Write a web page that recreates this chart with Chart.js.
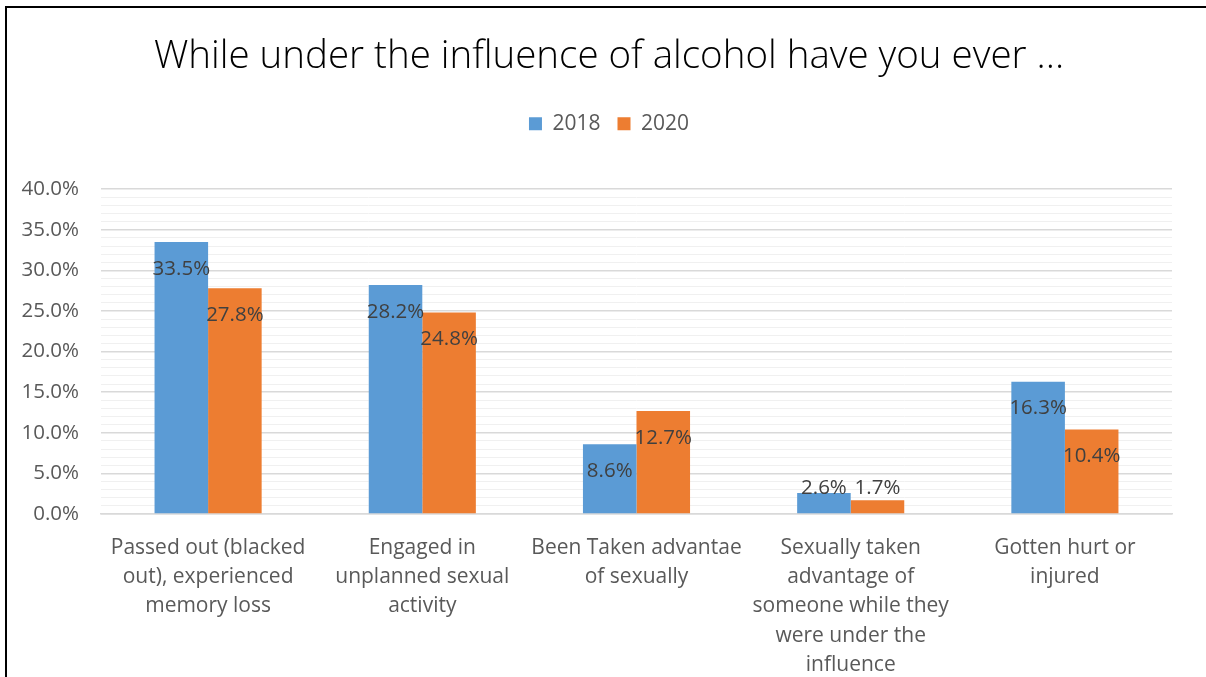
<!DOCTYPE html>
<html>
<head>
<meta charset="utf-8">
<script src="https://cdn.jsdelivr.net/npm/chart.js@4.4.1/dist/chart.umd.min.js"></script>
<style>
  html, body { margin: 0; padding: 0; background: #ffffff; }
  #frame { position: absolute; left: 5px; top: 6px; width: 1210px; height: 680px;
           border-left: 2.5px solid #000; border-top: 2.5px solid #000; }
  #wrap { position: absolute; left: 0; top: 0; width: 1206px; height: 677px; }
</style>
</head>
<body>
<div id="frame"></div>
<div id="wrap"><canvas id="c"></canvas></div>
<script>
// Survey responses, percent of students
const categories = [
  ["Passed out (blacked", "out), experienced", "memory loss"],
  ["Engaged in", "unplanned sexual", "activity"],
  ["Been Taken advantae", "of sexually"],
  ["Sexually taken", "advantage of", "someone while they", "were under the", "influence"],
  ["Gotten hurt or", "injured"]
];
const seriesNames = ["2018", "2020"];
const values2018 = [33.5, 28.2, 8.6, 2.6, 16.3];
const values2020 = [27.8, 24.8, 12.7, 1.7, 10.4];

const FONT = "'Open Sans', 'Liberation Sans', sans-serif";

// Writes each bar's value just inside its top end
const valueLabels = {
  id: 'valueLabels',
  afterDatasetsDraw(chart) {
    const ctx = chart.ctx;
    ctx.save();
    ctx.font = "20.5px " + FONT;
    ctx.fillStyle = '#404040';
    ctx.textAlign = 'center';
    ctx.textBaseline = 'middle';
    chart.data.datasets.forEach((ds, di) => {
      chart.getDatasetMeta(di).data.forEach((bar, i) => {
        const y = Math.min(bar.y + 27, bar.base - 25);
        ctx.fillText(ds.data[i].toFixed(1) + '%', bar.x, y);
      });
    });
    ctx.restore();
  }
};

// Leaves a gap between the legend row and the plot area
const legendGap = {
  id: 'legendGap',
  beforeLayout(chart) {
    const lg = chart.legend;
    if (lg && !lg._gapAdded) {
      const fit = lg.fit;
      lg.fit = function () { fit.call(this); this.height += 45; };
      lg._gapAdded = true;
    }
  }
};

new Chart(document.getElementById('c'), {
  type: 'bar',
  data: {
    labels: categories,
    datasets: [
      { label: seriesNames[0], data: values2018, backgroundColor: '#5B9BD5' },
      { label: seriesNames[1], data: values2020, backgroundColor: '#ED7D31' }
    ]
  },
  options: {
    responsive: true,
    maintainAspectRatio: false,
    animation: false,
    layout: { padding: { left: 46, right: 34, top: 0, bottom: 0 } },
    datasets: { bar: { categoryPercentage: 0.5, barPercentage: 1.0 } },
    plugins: {
      title: {
        display: true,
        text: 'While under the influence of alcohol have you ever ...',
        color: '#000000',
        font: { family: FONT, size: 38.5, weight: 300, lineHeight: 1.2 },
        padding: { top: 34, bottom: 16 }
      },
      legend: {
        display: true,
        labels: {
          color: '#595959',
          font: { family: FONT, size: 21 },
          boxWidth: 13, boxHeight: 13, padding: 17
        }
      },
      tooltip: { enabled: false }
    },
    scales: {
      x: {
        grid: { display: false },
        border: { display: true, color: '#d9d9d9', width: 1.5 },
        ticks: {
          color: '#595959', font: { family: FONT, size: 21, lineHeight: 1.4 },
          maxRotation: 0, autoSkip: false, padding: 11
        },
        afterFit(scale) { scale.height = 163; }
      },
      y: {
        min: 0, max: 40,
        border: { display: false },
        grid: {
          drawTicks: false,
          color: (c) => (Math.round(c.tick.value) % 5 === 0 ? '#d9d9d9' : '#f0f0f0'),
          lineWidth: (c) => (Math.round(c.tick.value) % 5 === 0 ? 1.5 : 1)
        },
        ticks: {
          stepSize: 1, autoSkip: false, padding: 22,
          color: '#595959', font: { family: FONT, size: 20.5 },
          callback: (v) => (Math.round(v) % 5 === 0 ? v.toFixed(1) + '%' : '')
        },
        afterFit(scale) {
          scale.width = 55;
          // tick labels may extend into the left padding, so do not clip them
          scale._computeLabelArea = () => undefined;
        }
      }
    }
  },
  plugins: [valueLabels, legendGap]
});
</script>
</body>
</html>
